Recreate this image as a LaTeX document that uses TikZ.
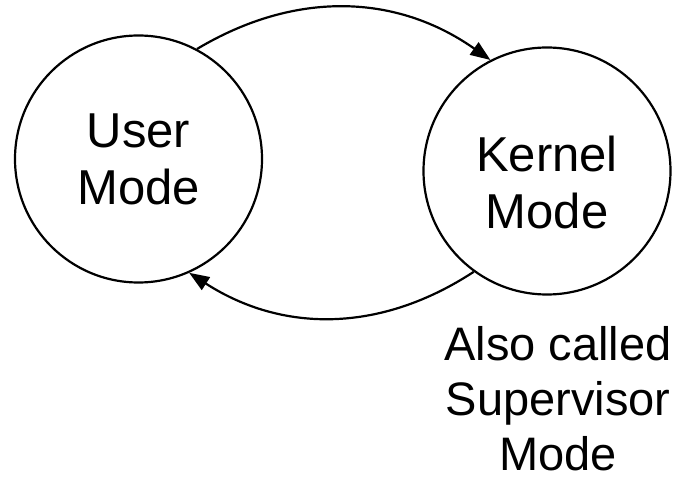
\documentclass[tikz,border=0pt]{standalone}
\usepackage{fontspec}
\setmainfont{Liberation Sans}
\usetikzlibrary{arrows.meta}
\begin{document}
\begin{tikzpicture}[x=1pt,y=1pt,
  modecircle/.style={circle,draw,line width=2.2pt,minimum size=247pt,inner sep=0pt},
  modetext/.style={align=center,font=\fontsize{49}{57}\selectfont},
  arr/.style={line width=2.2pt,-{Triangle[length=20pt,width=15pt]}}]
\useasboundingbox (0,0) rectangle (678,485);
\node[modecircle] (U) at (138.5,326) {};
\node[modetext] (Utext) at (U.center) {User\\Mode};
\node[modecircle] (K) at (547,314) {};
\node[modetext] (Ktext) at ([yshift=-11pt]K.center) {Kernel\\Mode};
\node[align=center,font=\fontsize{47}{55}\selectfont] (note) at (558,86) {Also called\\Supervisor\\Mode};
\draw[arr] (U.62) to[bend left=33] (K.117.6);
\draw[arr] (K.234.6) to[bend left=33] (U.294);
\end{tikzpicture}
\end{document}
